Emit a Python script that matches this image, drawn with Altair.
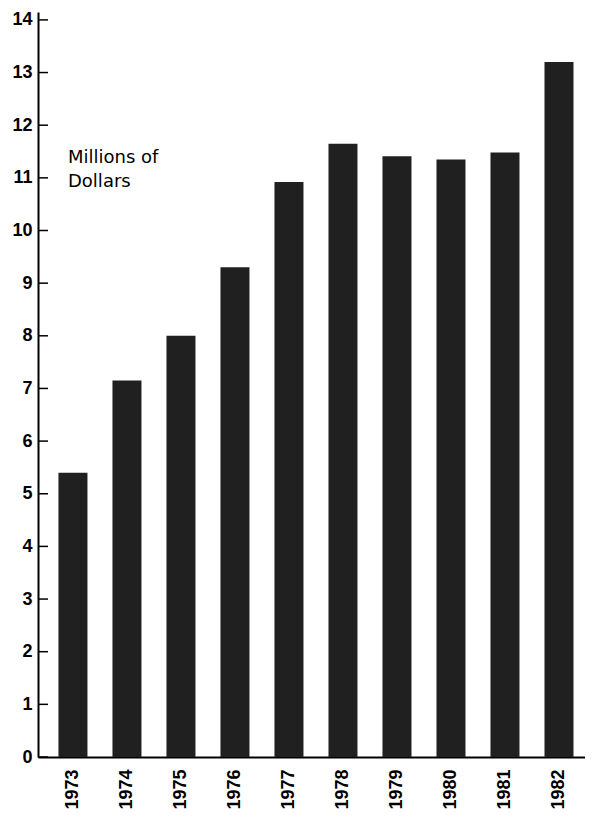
import altair as alt
import pandas as pd

years = ["1973", "1974", "1975", "1976", "1977", "1978", "1979", "1980", "1981", "1982"]
values = [5.4, 7.15, 8.0, 9.3, 10.92, 11.65, 11.41, 11.35, 11.48, 13.2]
y_ticks = list(range(0, 15))
label_lines = ["Millions of", "Dollars"]

df = pd.DataFrame({"year": years, "value": values})
ticks_df = pd.DataFrame({"t": y_ticks})

yscale = alt.Scale(domain=[0, 14.15], nice=False, zero=True)
xscale = alt.Scale(paddingInner=0.463, paddingOuter=0.296, align=0.64)

bars = alt.Chart(df).mark_bar(color="#202020").encode(
    x=alt.X("year:N", scale=xscale, sort=years,
            axis=alt.Axis(title=None, labelAngle=-90, labelFont="Liberation Sans",
                          labelFontWeight="bold", labelFontSize=18, labelColor="black",
                          labelPadding=12, ticks=False, domainColor="black",
                          domainWidth=2)),
    y=alt.Y("value:Q", scale=yscale,
            axis=alt.Axis(title=None, values=y_ticks, tickSize=0, grid=False,
                          labelFont="Liberation Sans", labelFontWeight="bold",
                          labelFontSize=18, labelColor="black", labelPadding=6,
                          domainColor="black", domainWidth=2)),
)

tick_marks = alt.Chart(ticks_df).mark_rule(color="black", strokeWidth=1.5).encode(
    y=alt.Y("t:Q", scale=yscale),
    x=alt.value(0),
    x2=alt.value(10),
)

label = alt.Chart(pd.DataFrame({"a": [0]})).mark_text(
    text=label_lines, align="left", baseline="alphabetic", font="DejaVu Sans",
    fontSize=18, lineHeight=24, color="black"
).encode(x=alt.value(30), y=alt.value(151))

chart = alt.layer(bars, tick_marks, label).properties(
    width=547, height=745,
    background="white",
    autosize=alt.AutoSizeParams(type="none"),
    padding={"left": 30, "top": 4, "right": 0, "bottom": 60},
).configure_view(stroke=None)

chart.save("out.html", embed_options={"renderer": "svg", "actions": False})
